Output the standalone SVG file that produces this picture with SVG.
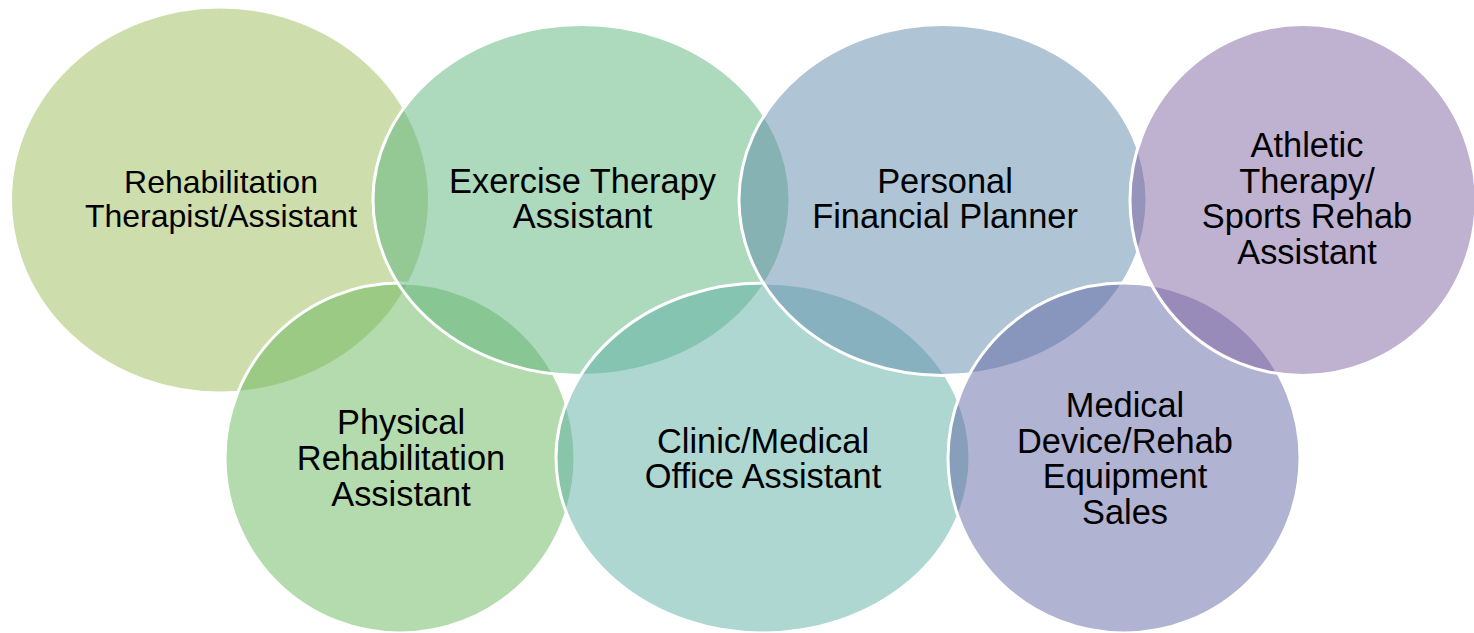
<svg xmlns="http://www.w3.org/2000/svg" width="1474" height="633" viewBox="0 0 1474 633">
<style>
.bub{stroke:#ffffff;stroke-width:3;fill-opacity:0.5}
.lbl{font-family:"Liberation Sans",Arial,sans-serif;font-size:34.4px;fill:#000000;text-anchor:middle}
.sm{font-size:32px}
</style>
<rect width="1474" height="633" fill="#ffffff"/>
<g id="connectors"/>
<g id="node-rehab-therapist">
<ellipse class="bub" cx="220" cy="200" rx="209.5" ry="193" fill="#9bbb59"/>
<text class="lbl sm"><tspan x="221" y="193">Rehabilitation</tspan><tspan x="221" y="227">Therapist/Assistant</tspan></text>
</g>
<g id="node-physical-rehab">
<ellipse class="bub" cx="400" cy="458" rx="175" ry="175" fill="#69b75b"/>
<text class="lbl"><tspan x="401" y="434">Physical</tspan><tspan x="401" y="470">Rehabilitation</tspan><tspan x="401" y="506">Assistant</tspan></text>
</g>
<g id="node-exercise-therapy">
<ellipse class="bub" cx="581.5" cy="200" rx="208.5" ry="175.5" fill="#5cb37c"/>
<text class="lbl"><tspan x="582.5" y="193">Exercise Therapy</tspan><tspan x="582.5" y="228">Assistant</tspan></text>
</g>
<g id="node-clinic-office">
<ellipse class="bub" cx="763" cy="458" rx="207" ry="175" fill="#5eafa6"/>
<text class="lbl"><tspan x="763" y="453">Clinic/Medical</tspan><tspan x="763" y="488">Office Assistant</tspan></text>
</g>
<g id="node-financial-planner">
<ellipse class="bub" cx="943" cy="200" rx="204" ry="175.5" fill="#608cab"/>
<text class="lbl"><tspan x="945" y="193">Personal</tspan><tspan x="945" y="228">Financial Planner</tspan></text>
</g>
<g id="node-medical-device">
<ellipse class="bub" cx="1124" cy="458" rx="176" ry="175" fill="#6267a6"/>
<text class="lbl"><tspan x="1125" y="417">Medical</tspan><tspan x="1125" y="453">Device/Rehab</tspan><tspan x="1125" y="488">Equipment</tspan><tspan x="1125" y="524">Sales</tspan></text>
</g>
<g id="node-athletic-therapy">
<ellipse class="bub" cx="1303" cy="200" rx="173" ry="175.5" fill="#8064a2"/>
<text class="lbl"><tspan x="1307" y="157">Athletic</tspan><tspan x="1307" y="193">Therapy/</tspan><tspan x="1307" y="228">Sports Rehab</tspan><tspan x="1307" y="264">Assistant</tspan></text>
</g>
</svg>
